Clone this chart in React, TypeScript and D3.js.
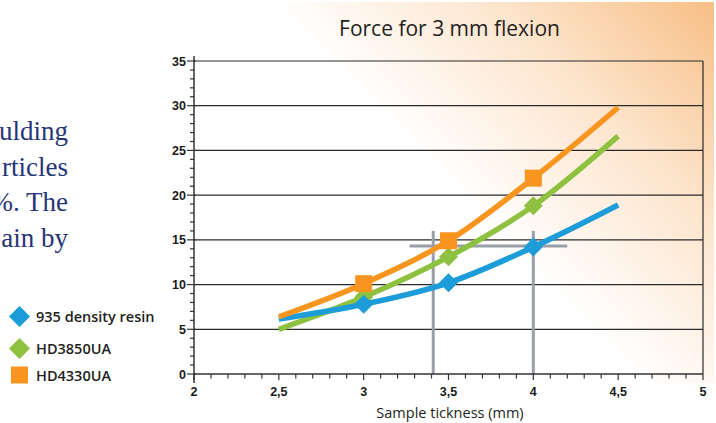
import React from "react";
import * as d3 from "d3";

const thickness = [2.5, 3, 3.5, 4, 4.5];
const resin935 = [6.15, 7.8, 10.2, 14.2, 18.9];
const hd3850 = [5.0, 8.6, 13.1, 18.8, 26.6];
const hd4330 = [6.4, 10.1, 14.9, 21.9, 29.8];
const markerIdx = [1, 2, 3];

const seriesNames = ["935 density resin", "HD3850UA", "HD4330UA"];
const seriesColors = ["#1c9cd8", "#8dc13f", "#f7951f"];

const xTicks = [2, 2.5, 3, 3.5, 4, 4.5, 5];
const xTickLabels = ["2", "2,5", "3", "3,5", "4", "4,5", "5"];
const yTicks = [0, 5, 10, 15, 20, 25, 30, 35];

const refVerticals = [3.41, 4];
const refVerticalTop = 16;
const refHorizontal = 14.3;
const refHorizontalRange = [3.27, 4.2];

const sideText = ["ulding", "rticles", "%. The", "ain by"];

const W = 716;
const H = 423;

export default function App() {
  const x = d3.scaleLinear().domain([2, 5]).range([194, 703]);
  const y = d3.scaleLinear().domain([0, 35]).range([374, 61]);

  const line = d3
    .line<number>()
    .x((_, i) => x(thickness[i]))
    .y((d) => y(d))
    .curve(d3.curveMonotoneX);

  const series = [resin935, hd3850, hd4330];
  const drawOrder = [1, 0, 2];

  const minorX = d3.range(20, 51).map((v) => v / 10);
  const minorY = d3.range(0, 36);

  const diamond = (cx: number, cy: number, r: number) =>
    `M${cx},${cy - r}L${cx + r},${cy}L${cx},${cy + r}L${cx - r},${cy}Z`;

  const marker = (s: number, cx: number, cy: number, key: string, big = 9.5) =>
    s === 2 ? (
      <rect key={key} x={cx - 8.5} y={cy - 8.5} width={17} height={17} fill={seriesColors[s]} />
    ) : (
      <path key={key} d={diamond(cx, cy, big)} fill={seriesColors[s]} />
    );

  return (
    <svg
      width={W}
      height={H}
      style={{ position: "absolute", left: 0, top: 0, background: "#fff" }}
    >
      <defs>
        <linearGradient id="bg" gradientUnits="userSpaceOnUse" x1={380} y1={330} x2={716} y2={0}>
          <stop offset="0" stopColor="#ffffff" />
          <stop offset="0.32" stopColor="#ffffff" />
          <stop offset="0.66" stopColor="#fde5cd" />
          <stop offset="1" stopColor="#f7be84" />
        </linearGradient>
      </defs>
      <rect x={241} y={2} width={714 - 241} height={383 - 2} fill="url(#bg)" />

      {/* side paragraph fragment */}
      {sideText.map((t, i) => (
        <text
          key={t}
          x={68}
          y={140 + i * 35.5}
          textAnchor="end"
          fontFamily="'Liberation Serif', serif"
          fontSize={27}
          fill="#263577"
        >
          {t}
        </text>
      ))}

      {/* title */}
      <text
        x={449.5}
        y={36}
        textAnchor="middle"
        fontFamily="'Open Sans', sans-serif"
        fontWeight={400}
        fontSize={21}
        fill="#231f20"
      >
        Force for 3 mm flexion
      </text>

      {/* gridlines */}
      {yTicks.slice(1).map((v) => (
        <line key={`g${v}`} x1={x(2)} x2={x(5)} y1={y(v)} y2={y(v)} stroke="#2a2a2a" strokeWidth={1.2} />
      ))}
      <line x1={x(5)} x2={x(5)} y1={y(35)} y2={y(0)} stroke="#2a2a2a" strokeWidth={1.2} />

      {/* reference cross */}
      {refVerticals.map((v) => (
        <line
          key={`rv${v}`}
          x1={x(v)}
          x2={x(v)}
          y1={y(refVerticalTop)}
          y2={y(0)}
          stroke="#9a9ea7"
          strokeWidth={3}
        />
      ))}
      <line
        x1={x(refHorizontalRange[0])}
        x2={x(refHorizontalRange[1])}
        y1={y(refHorizontal)}
        y2={y(refHorizontal)}
        stroke="#9a9ea7"
        strokeWidth={3}
      />

      {/* axes */}
      <line x1={x(2)} x2={x(2)} y1={y(0) + 9} y2={56} stroke="#333" strokeWidth={1.5} />
      <line x1={x(2)} x2={x(5)} y1={y(0)} y2={y(0)} stroke="#333" strokeWidth={1.5} />
      {minorY.map((v) => (
        <line
          key={`ym${v}`}
          x1={x(2) - (v % 5 === 0 ? 7 : 4)}
          x2={x(2) + (v % 5 === 0 ? 2 : 0)}
          y1={y(v)}
          y2={y(v)}
          stroke="#333"
          strokeWidth={1.2}
        />
      ))}
      {minorX.map((v, i) => (
        <line
          key={`xm${i}`}
          x1={x(v)}
          x2={x(v)}
          y1={y(0)}
          y2={y(0) + (i % 5 === 0 ? 6 : 4.5)}
          stroke="#333"
          strokeWidth={1.2}
        />
      ))}
      {yTicks.map((v) => (
        <text
          key={`yl${v}`}
          x={186}
          y={y(v) + 4.5}
          textAnchor="end"
          fontFamily="'Liberation Sans', Arial, sans-serif"
          fontWeight="bold"
          fontSize={12.5}
          fill="#1a1a1a"
        >
          {v}
        </text>
      ))}
      {xTicks.map((v, i) => (
        <text
          key={`xl${v}`}
          x={x(v)}
          y={396}
          textAnchor="middle"
          fontFamily="'Liberation Sans', Arial, sans-serif"
          fontWeight="bold"
          fontSize={12.5}
          fill="#1a1a1a"
        >
          {xTickLabels[i]}
        </text>
      ))}
      <text
        x={450}
        y={418}
        textAnchor="middle"
        fontFamily="'Open Sans', sans-serif"
        fontWeight={500}
        fontSize={14.5}
        fill="#231f20"
      >
        Sample tickness (mm)
      </text>

      {/* series */}
      {drawOrder.map((s) => (
        <g key={`s${s}`}>
          <path d={line(series[s]) || ""} fill="none" stroke={seriesColors[s]} strokeWidth={5.5} />
          {markerIdx.map((i) => marker(s, x(thickness[i]), y(series[s][i]), `m${s}-${i}`))}
        </g>
      ))}

      {/* legend */}
      {seriesNames.map((n, i) => {
        const cy = [316.5, 348.5, 375][i];
        return (
          <g key={n}>
            {i === 2 ? (
              <rect x={11} y={cy - 8.5} width={17} height={17} fill={seriesColors[i]} />
            ) : (
              <path d={diamond(19.5, cy, 10.5)} fill={seriesColors[i]} />
            )}
            <text
              x={36}
              y={cy + 5.5}
              fontFamily="'Open Sans', sans-serif"
              fontWeight={600}
              fontSize={14.5}
              fill="#231f20"
            >
              {n}
            </text>
          </g>
        );
      })}
    </svg>
  );
}
